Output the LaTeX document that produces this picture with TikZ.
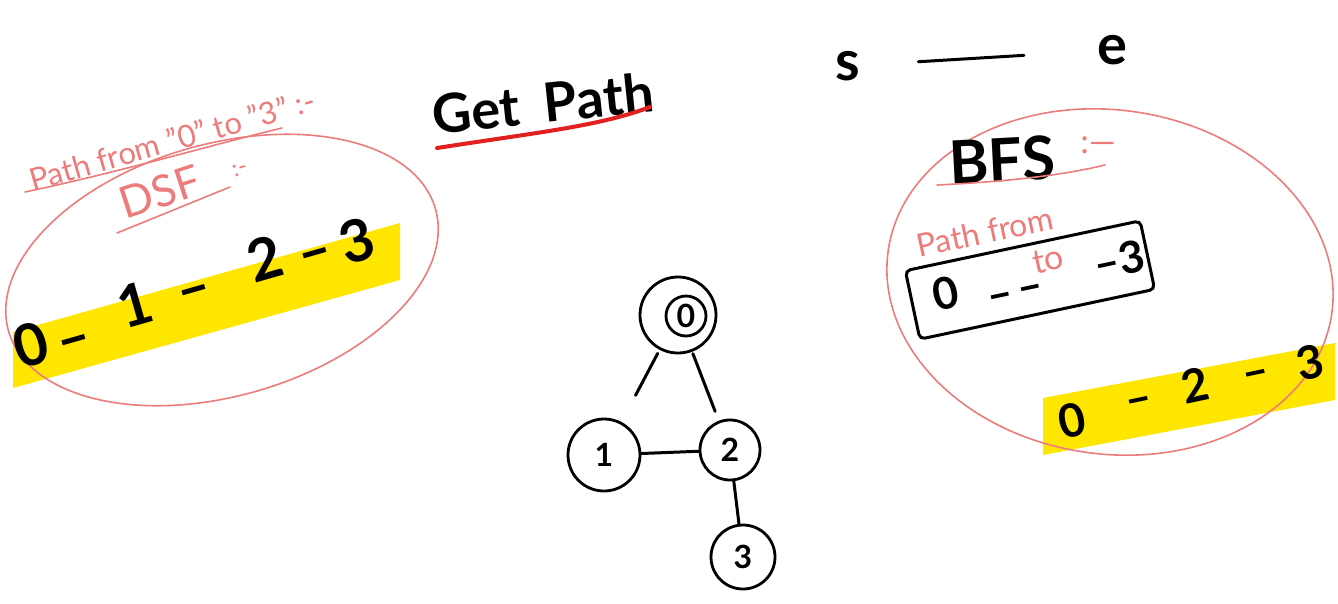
\documentclass[tikz,border=0pt]{standalone}
\usepackage{fontspec}
\setmainfont{Lato}
\usetikzlibrary{positioning}
\definecolor{notepink}{RGB}{236,124,124}
\definecolor{notered}{RGB}{226,32,32}
\definecolor{marker}{RGB}{255,230,0}
\newcommand{\handsize}[1]{\fontsize{#1}{#1}\selectfont}
\tikzset{pink/.style = {draw=notepink, line width=1.6, line cap=round}}
\tikzset{ink/.style = {text=black, inner sep=0, font=\bfseries}}
\tikzset{pinktext/.style = {text=notepink, inner sep=0}}
\tikzset{vert/.style = {draw, circle, line width=2.8, inner sep=0, font=\bfseries}}
\tikzset{edge/.style = {line width=3, line cap=round}}

\begin{document}
\begin{tikzpicture}[x=1pt, y=-1pt]
    \useasboundingbox (0,0) rectangle (1338,603);

    % DFS side
    \fill [marker] (13,332) -- (400,223) -- (400,280) -- (13,388) -- cycle;
    \draw [pink, rotate around={16:(222,270)}] (222,270) ellipse [x radius=222, y radius=126];
    \node (title) [pinktext, rotate=16] at (172,140) {\handsize{31}Path from "0" to "3" :-};
    \draw [pink] (25,192) .. controls (120,172) and (200,148) .. (282,128);
    \node (dsf) [pinktext, rotate=18] at (160,192) {\handsize{44}DSF};
    \node (dsfmark) [pinktext, rotate=18] at (240,170) {\handsize{24}:-};
    \draw [pink] (117,233) -- (230,187);

    \node (l0) [ink, anchor=mid, rotate=16] at (36,362) {\handsize{58}0};
    \node (l0d) [ink, anchor=mid, rotate=16] at (78,354) {\handsize{58}--};
    \node (l1) [ink, anchor=mid, rotate=16] at (140,322) {\handsize{58}1};
    \node (l1d) [ink, anchor=mid, rotate=16] at (198,304) {\handsize{58}--};
    \node (l2) [ink, anchor=mid, rotate=16] at (270,276) {\handsize{58}2};
    \node (l2d) [ink, anchor=mid, rotate=16] at (319,267) {\handsize{58}--};
    \node (l3) [ink, anchor=mid, rotate=16] at (362,258) {\handsize{58}3};

    % title
    \node (getpath) [ink, rotate=6] at (543,103) {\handsize{54}Get\hspace{0.45em}Path};
    \draw [notered, line width=4, line cap=round] (437,148) .. controls (540,132) and (600,126) .. (650,107);

    % graph
    \node (v0) [vert, minimum size=76] at (678,315) {};
    \node (v0in) [vert, minimum size=40] at (686,316) {\handsize{32}0};
    \node (v1) [vert, minimum size=72] at (604,455) {\handsize{32}1};
    \node (v2) [vert, minimum size=60] at (730,450) {\handsize{32}2};
    \node (v3) [vert, minimum size=64] at (743,557) {\handsize{32}3};
    \draw [edge, shorten <=4, shorten >=30] (v0) -- (v1);
    \draw [edge, shorten <=2, shorten >=10] (v0) -- (v2);
    \draw [edge] (v1) -- (v2);
    \draw [edge] (v2) -- (v3);

    % s -- e
    \node (s) [ink] at (848,66) {\handsize{56}s};
    \node (e) [ink] at (1112,50) {\handsize{56}e};
    \draw [edge, shorten <=58, shorten >=73] (s) -- (e);

    % BFS side
    \fill [marker] (1043,398) -- (1335,343) -- (1335,400) -- (1043,455) -- cycle;
    \draw [pink, rotate around={-8:(1110,282)}] (1110,282) ellipse [x radius=224, y radius=172];
    \node (bfs) [ink, rotate=3] at (1002,160) {\handsize{60}BFS};
    \node (bfsmark) [pinktext] at (1098,145) {\handsize{34}:---};
    \draw [pink] (937,185) .. controls (1000,182) and (1060,176) .. (1105,165);
    \node (pfrom) [pinktext, rotate=12] at (985,232) {\handsize{32}Path from};

    \node (bfsbox) [draw, line width=3, rounded corners=5, rotate=12, minimum width=240, minimum height=70] at (1030,280) {};
    \node (b0) [ink, anchor=mid, rotate=12] at (948,306) {\handsize{44}0};
    \node (b0d) [ink, anchor=mid, rotate=12] at (1002,306) {\handsize{44}--};
    \node (b1d) [ink, anchor=mid, rotate=12] at (1032,298) {\handsize{44}--};
    \node (bto) [pinktext, rotate=12] at (1048,260) {\handsize{34}to};
    \node (b3) [ink, anchor=mid, rotate=12] at (1122,273) {\handsize{44}--3};

    \node (r0) [ink, anchor=mid, rotate=12] at (1075,434) {\handsize{46}0};
    \node (r0d) [ink, anchor=mid, rotate=12] at (1141,411) {\handsize{46}--};
    \node (r2) [ink, anchor=mid, rotate=12] at (1198,399) {\handsize{46}2};
    \node (r2d) [ink, anchor=mid, rotate=12] at (1258,384) {\handsize{46}--};
    \node (r3) [ink, anchor=mid, rotate=12] at (1313,376) {\handsize{46}3};
  \end{tikzpicture}
\end{document}
